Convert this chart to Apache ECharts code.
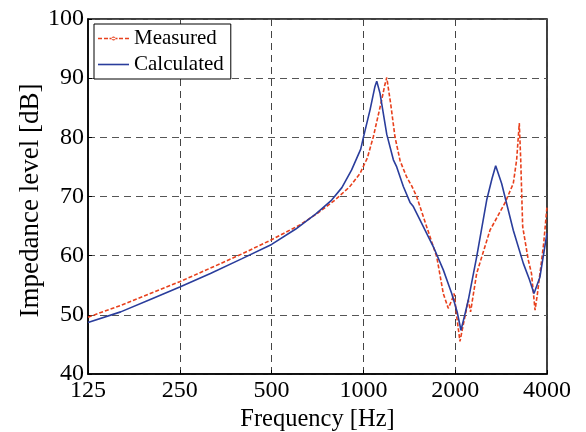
<!DOCTYPE html>
<html>
<head>
<meta charset="utf-8">
<script src="https://cdn.jsdelivr.net/npm/echarts@6/dist/echarts.min.js"></script>
<style>html,body{margin:0;padding:0;background:#fff}#c{width:586px;height:432px}</style>
</head>
<body>
<div id="c"></div>
<script>
// Tick labels (Hz) and y ticks
const xTickLabels = [125, 250, 500, 1000, 2000, 4000];
const yMin = 40, yMax = 100, yStep = 10;

// Measured series
const measuredFreq = [125, 160, 200, 250, 315, 400, 500, 619, 700, 807, 900, 975, 1030, 1078, 1148, 1175, 1193, 1230, 1269, 1320, 1386, 1440, 1495, 1612, 1740, 1828, 1898, 1950, 1984, 2020, 2073, 2110, 2153, 2208, 2246, 2352, 2601, 2912, 3101, 3181, 3245, 3280, 3329, 3472, 3558, 3655, 3720, 3793, 3900, 4000];
const measuredDB = [49.6, 51.6, 53.6, 55.6, 57.9, 60.3, 62.7, 65.2, 67.0, 69.4, 71.6, 73.9, 76.5, 80.1, 86.3, 88.8, 90.1, 85.5, 80.1, 76.0, 73.3, 71.8, 70.0, 64.9, 59.8, 53.6, 51.1, 52.5, 53.6, 50.0, 45.5, 47.5, 49.7, 52.5, 50.5, 57.0, 64.3, 68.9, 72.2, 76.2, 82.4, 76.2, 64.9, 59.3, 57.0, 50.8, 53.5, 57.0, 62.0, 68.3];

// Calculated series
const calcFreq = [125, 160, 200, 250, 315, 400, 500, 600, 700, 787, 850, 915, 980, 1000, 1051, 1090, 1106, 1134, 1193, 1254, 1286, 1352, 1422, 1458, 1572, 1696, 1828, 1948, 2030, 2089, 2150, 2208, 2352, 2537, 2640, 2715, 2840, 3101, 3345, 3500, 3626, 3793, 4000];
const calcDB = [48.7, 50.5, 52.6, 54.7, 57.0, 59.5, 61.9, 64.5, 67.1, 69.4, 71.5, 74.5, 78.0, 80.0, 84.6, 88.5, 89.5, 87.4, 80.5, 76.2, 75.0, 71.7, 69.0, 68.3, 64.9, 61.5, 57.6, 53.6, 50.5, 47.4, 50.0, 52.5, 59.8, 69.4, 73.0, 75.2, 72.2, 64.3, 58.7, 56.0, 53.6, 56.4, 63.8];

const base = xTickLabels[0];
const toOct = f => Math.log2(f / base);
const pair = (fs, vs) => fs.map((f, i) => [toOct(f), vs[i]]);

const RED = '#e8401c', BLUE = '#2a3d9c';
const FONT = 'Liberation Serif';
// legend glyphs: dashed line with a dot / solid line
const iconMeasured = 'path://M0,6.3h4v1.4h-4z M6,6.3h4v1.4h-4z M21,6.3h4v1.4h-4z M27,6.3h4v1.4h-4z M11.5,6.3h8v1.4h-8z M15.5,5a2,2 0 1,0 0.01,0z';
const iconCalc = 'path://M0,6.2h31v1.6h-31z';

const chart = echarts.init(document.getElementById('c'), null, {renderer: 'canvas'});
chart.setOption({
  animation: false,
  backgroundColor: '#fff',
  textStyle: {fontFamily: FONT},
  grid: {left: 88, right: 39, top: 19, bottom: 58, outerBoundsMode: 'none', containLabel: false,
    show: true, borderColor: '#000', borderWidth: 1.5, backgroundColor: 'transparent'},
  legend: {
    orient: 'vertical', left: 94, top: 24,
    backgroundColor: '#fff', borderColor: '#000', borderWidth: 1, borderRadius: 0,
    padding: [4, 7, 4, 4], itemWidth: 31, itemHeight: 14, itemGap: 5,
    textStyle: {fontFamily: FONT, fontSize: 21, color: '#000'},
    data: [
      {name: 'Measured', icon: iconMeasured, itemStyle: {color: RED}},
      {name: 'Calculated', icon: iconCalc, itemStyle: {color: BLUE}}
    ]
  },
  xAxis: {
    type: 'value', min: 0, max: xTickLabels.length - 1, interval: 1,
    name: 'Frequency [Hz]', nameLocation: 'middle', nameGap: 33, nameMoveOverlap: false,
    nameTextStyle: {fontFamily: FONT, fontSize: 24.5, color: '#000'},
    axisLine: {lineStyle: {color: '#000', width: 1.5}},
    axisTick: {inside: true, length: 4, lineStyle: {color: '#000'}},
    axisLabel: {fontFamily: FONT, fontSize: 24, color: '#000', margin: 5,
      formatter: v => String(xTickLabels[Math.round(v)])},
    splitLine: {show: true, lineStyle: {color: '#444', type: [7, 5], width: 1}}
  },
  yAxis: {
    type: 'value', min: yMin, max: yMax, interval: yStep,
    name: 'Impedance level [dB]', nameLocation: 'middle', nameGap: 44, nameMoveOverlap: false,
    nameTextStyle: {fontFamily: FONT, fontSize: 27, color: '#000', padding: [0, 8, 0, 0]},
    axisLine: {show: true, lineStyle: {color: '#000', width: 1.5}},
    axisTick: {inside: true, length: 4, lineStyle: {color: '#000'}},
    axisLabel: {fontFamily: FONT, fontSize: 24, color: '#000', margin: 4},
    splitLine: {show: true, lineStyle: {color: '#555', type: [7, 5], width: 1}}
  },
  series: [
    {
      name: 'Measured', type: 'line', data: pair(measuredFreq, measuredDB),
      symbol: 'none', showSymbol: false,
      itemStyle: {color: RED},
      lineStyle: {color: RED, width: 1.6, type: [4, 2]},
      z: 3
    },
    {
      name: 'Calculated', type: 'line', data: pair(calcFreq, calcDB),
      symbol: 'none', showSymbol: false,
      itemStyle: {color: BLUE},
      lineStyle: {color: BLUE, width: 1.6},
      z: 4
    }
  ]
});
</script>
</body>
</html>
